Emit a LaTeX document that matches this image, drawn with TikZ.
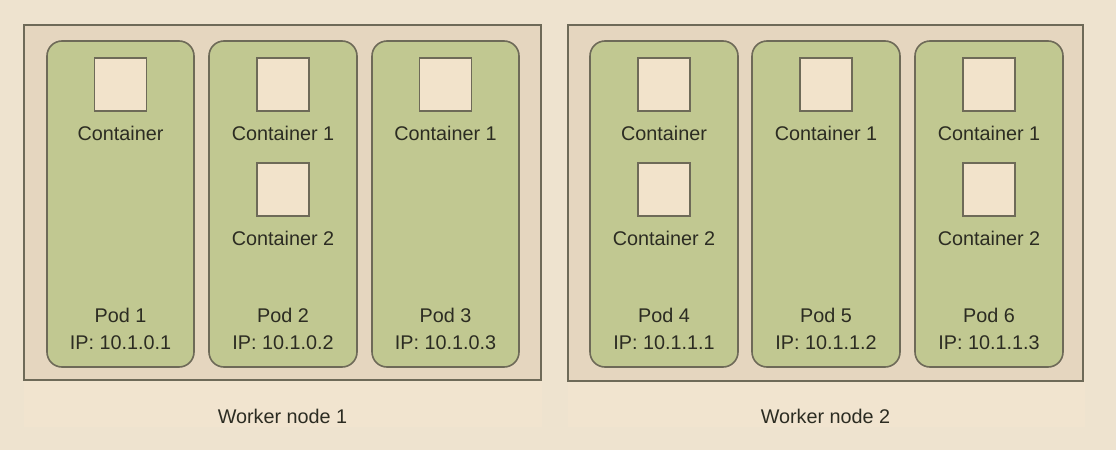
\documentclass[tikz,border=0pt]{standalone}
\usepackage{fontspec}
\setmainfont{Liberation Sans}
\definecolor{bgc}{HTML}{EEE3CF}
\definecolor{bandc}{HTML}{F1E4CF}
\definecolor{nodec}{HTML}{E5D6BF}
\definecolor{podc}{HTML}{C1C891}
\definecolor{boxc}{HTML}{F2E3CB}
\definecolor{linec}{HTML}{6E6A58}
\definecolor{txtc}{HTML}{2C2C22}
\begin{document}
\begin{tikzpicture}[x=1pt,y=-1pt,
  worker/.style={draw=linec,line width=2pt,fill=nodec},
  pod/.style={draw=linec,line width=1.6pt,fill=podc,rounded corners=15pt},
  ctr/.style={draw=linec,line width=1.6pt,fill=boxc,minimum width=52pt,minimum height=53pt,inner sep=0pt},
  lbl/.style={text=txtc,font=\fontsize{19.8}{21}\selectfont,inner sep=0pt,anchor=base}]
\useasboundingbox (0,0) rectangle (1116,450);
\fill[bgc] (0,0) rectangle (1116,450);
\fill[bandc] (24,25) rectangle (542,427);
\fill[bandc] (568,25) rectangle (1085,427);
% worker nodes
\draw[worker] (24,25) rectangle (541,380);
\draw[worker] (568,25) rectangle (1083,381);
\node[lbl] (w1) at (282.5,423) {Worker node 1};
\node[lbl] (w2) at (825.5,423) {Worker node 2};
% pods
\foreach \i/\xa/\xb in {1/47/194,2/209/357,3/372/519,4/590/738,5/752/900,6/915/1063}{
  \draw[pod] (\xa,41) rectangle (\xb,367);
}
% pod 1
\node[ctr] (c11) at (120.5,84.5) {};
\node[lbl] (l11) at (120.5,140) {Container};
\node[lbl] (p1) at (120.5,322) {Pod 1};
\node[lbl] (ip1) at (120.5,349) {IP: 10.1.0.1};
% pod 2
\node[ctr] (c21) at (283,84.5) {};
\node[lbl] (l21) at (283,140) {Container 1};
\node[ctr] (c22) at (283,189.5) {};
\node[lbl] (l22) at (283,245) {Container 2};
\node[lbl] (p2) at (283,322) {Pod 2};
\node[lbl] (ip2) at (283,349) {IP: 10.1.0.2};
% pod 3
\node[ctr] (c31) at (445.5,84.5) {};
\node[lbl] (l31) at (445.5,140) {Container 1};
\node[lbl] (p3) at (445.5,322) {Pod 3};
\node[lbl] (ip3) at (445.5,349) {IP: 10.1.0.3};
% pod 4
\node[ctr] (c41) at (664,84.5) {};
\node[lbl] (l41) at (664,140) {Container};
\node[ctr] (c42) at (664,189.5) {};
\node[lbl] (l42) at (664,245) {Container 2};
\node[lbl] (p4) at (664,322) {Pod 4};
\node[lbl] (ip4) at (664,349) {IP: 10.1.1.1};
% pod 5
\node[ctr] (c51) at (826,84.5) {};
\node[lbl] (l51) at (826,140) {Container 1};
\node[lbl] (p5) at (826,322) {Pod 5};
\node[lbl] (ip5) at (826,349) {IP: 10.1.1.2};
% pod 6
\node[ctr] (c61) at (989,84.5) {};
\node[lbl] (l61) at (989,140) {Container 1};
\node[ctr] (c62) at (989,189.5) {};
\node[lbl] (l62) at (989,245) {Container 2};
\node[lbl] (p6) at (989,322) {Pod 6};
\node[lbl] (ip6) at (989,349) {IP: 10.1.1.3};
\end{tikzpicture}
\end{document}
